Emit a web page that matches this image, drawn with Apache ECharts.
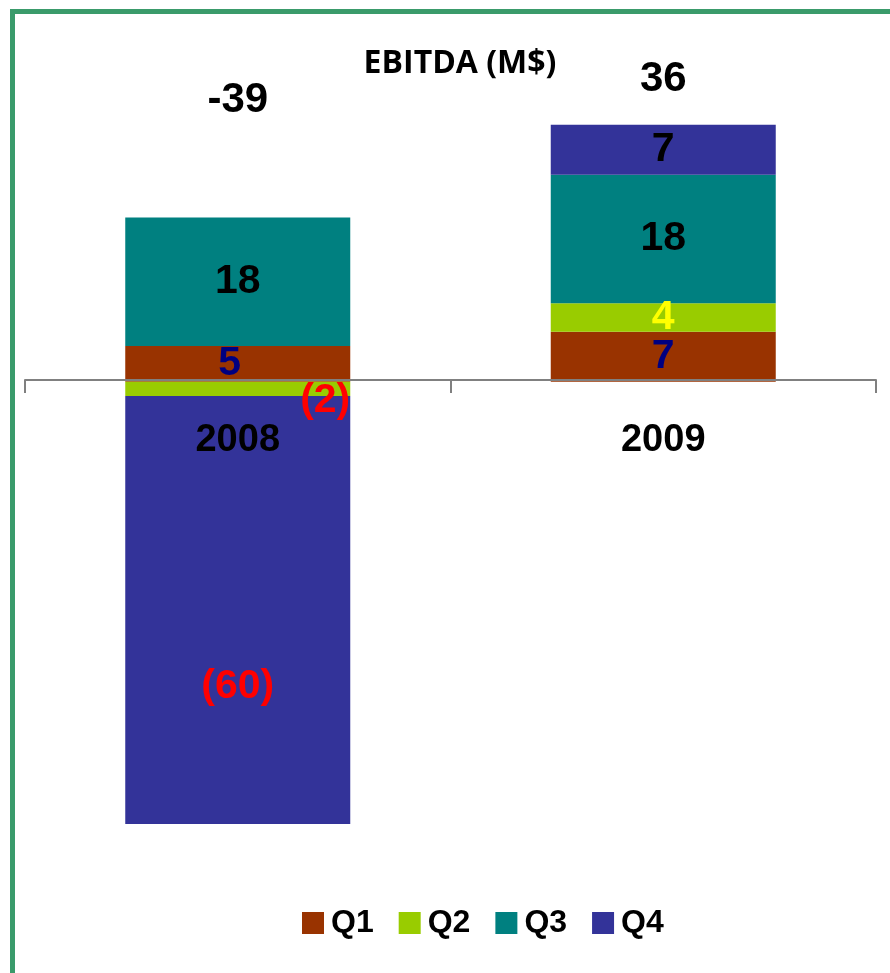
<html>
<head>
<meta http-equiv="Content-Type" content="text/html; charset=utf-8" />
<style type="text/css">
body {margin: 0; background-color: #fff}
</style>
</head>
<body>
<div id="main" style="width:890px;height:973px;"></div>
</body>

<script src="https://cdn.jsdelivr.net/npm/echarts@6/dist/echarts.min.js"></script>
<script type="text/javascript">

var years = ['2008', '2009'];
var quarters = ['Q1', 'Q2', 'Q3', 'Q4'];
var q1 = [5, 7];
var q2 = [-2, 4];
var q3 = [18, 18];
var q4 = [-60, 7];
var colors = ['#993300', '#99cc00', '#008080', '#333399'];

var font = '"Liberation Sans Narrow", "Liberation Sans", Arial, sans-serif';
var myChart = echarts.init(document.getElementById('main'));

function fmt(v) {
    return v < 0 ? '(' + Math.abs(v) + ')' : String(v);
}

// label colours / nudges per bar, like the original slide
var labelStyle = {
    Q1: [{color: '#000080', offset: [-8, 0]}, {color: '#000080'}],
    Q2: [{color: '#ff0000', position: 'insideRight', distance: 2, offset: [2, 12]}, {color: '#ffff00'}],
    Q3: [{color: '#000'}, {color: '#000'}],
    Q4: [{color: '#ff0000', offset: [0, 77]}, {color: '#000'}]
};

var values = [q1, q2, q3, q4];
var series = quarters.map(function (q, i) {
    return {
        name: q,
        type: 'bar',
        stack: 'total',
        barWidth: 225,
        itemStyle: {color: colors[i]},
        label: {
            show: true,
            position: 'inside',
            fontFamily: font,
            fontWeight: 'bold',
            fontSize: 41,
            formatter: function (p) { return fmt(p.value); }
        },
        data: values[i].map(function (v, j) {
            return {value: v, label: labelStyle[q][j]};
        })
    };
});

var totals = years.map(function (y, j) {
    return q1[j] + q2[j] + q3[j] + q4[j];
});

var gridTop = 25, gridBottom = 92;
var zeroY = 380;

option = {
    animation: false,
    title: {
        text: 'EBITDA (M$)',
        left: 455,
        textAlign: 'center',
        top: 43,
        textStyle: {fontFamily: '"Open Sans", sans-serif', fontWeight: 'bold', fontSize: 32, color: '#000'}
    },
    legend: {
        top: 902,
        left: 297,
        itemWidth: 22,
        itemHeight: 22,
        itemGap: 25,
        icon: 'rect',
        textStyle: {fontFamily: font, fontWeight: 'bold', fontSize: 32, color: '#000', padding: [0, 0, 0, 2]},
        data: quarters
    },
    grid: {left: 25, right: 14, top: gridTop, bottom: gridBottom},
    xAxis: {
        type: 'category',
        data: years,
        z: 10,
        position: 'bottom',
        offset: -(973 - gridBottom - zeroY),
        axisLine: {onZero: false, lineStyle: {color: '#808080', width: 2}},
        axisTick: {show: true, length: 13, lineStyle: {color: '#808080', width: 2}},
        axisLabel: {margin: 42, fontFamily: font, fontWeight: 'bold', fontSize: 38, color: '#000'}
    },
    yAxis: {
        type: 'value',
        min: -70,
        max: 50,
        show: false,
        splitLine: {show: false}
    },
    series: series
};

myChart.setOption(option);

// totals above the stacks + green frame
var totalY = [100, 79];
var graphics = [
    {type: 'rect', shape: {x: 10, y: 9, width: 880, height: 5}, style: {fill: '#3a9b6b'}},
    {type: 'rect', shape: {x: 10, y: 9, width: 5, height: 964}, style: {fill: '#3a9b6b'}}
];
years.forEach(function (y, j) {
    var x = myChart.convertToPixel({xAxisIndex: 0}, y);
    graphics.push({
        type: 'text',
        x: x,
        y: totalY[j],
        style: {
            text: String(totals[j]),
            font: 'bold 42px ' + font,
            fill: '#000',
            align: 'center',
            verticalAlign: 'middle'
        }
    });
});
myChart.setOption({graphic: graphics});
</script>
</html>
